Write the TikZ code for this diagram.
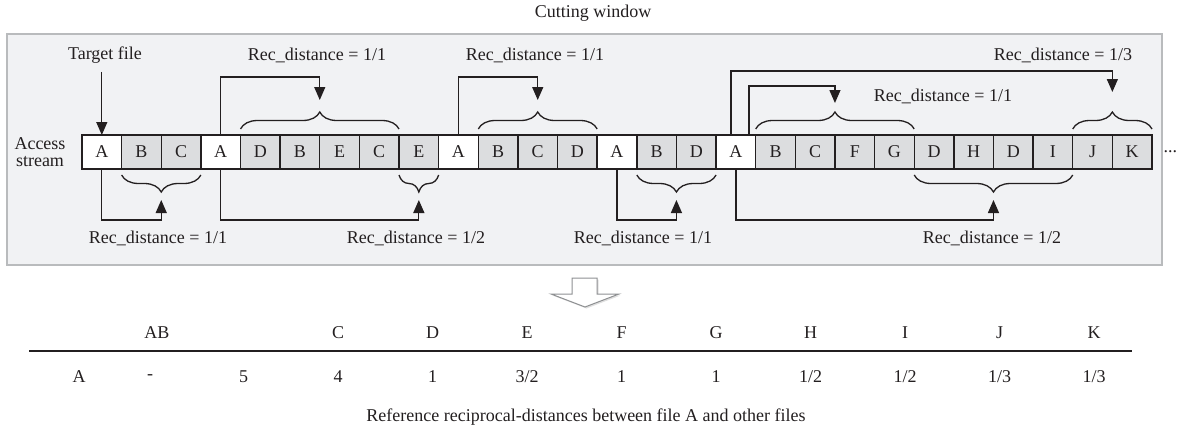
\documentclass[tikz,border=0pt]{standalone}
\usepackage{fontspec}
\setmainfont{Liberation Serif}
\usetikzlibrary{arrows.meta,positioning,calc,decorations.pathreplacing,shadows}
\definecolor{ink}{HTML}{231F20}
\definecolor{winfill}{HTML}{F1F2F4}
\definecolor{winline}{HTML}{B9BBBD}
\definecolor{cellgray}{HTML}{DCDDDF}
\definecolor{hollow}{HTML}{8E9092}

\tikzset{
  cell/.style={draw=ink,line width=1.4pt,minimum width=39.63pt,minimum height=34pt,inner sep=0pt,outer sep=0pt},
  fcell/.style={cell,fill=cellgray},
  acell/.style={cell,fill=white},
  conn/.style={draw=ink,line width=1.3pt,-{Triangle[length=13pt,width=11pt]}},
  ubrc/.style={draw=ink,line width=1.3pt,decorate,decoration={brace,amplitude=17pt}},
  lbrc/.style={draw=ink,line width=1.3pt,decorate,decoration={brace,mirror,amplitude=17pt}}
}

\begin{document}
\begin{tikzpicture}[x=1pt,y=-1pt,font=\fontsize{18}{17}\selectfont,text=ink]
\useasboundingbox (0,0) rectangle (1192,431);
\node (cw) at (593,13) {Cutting window};
\draw[winline,fill=winfill,line width=2pt] (7,34) rectangle (1162,265);

% the access stream
\node[align=center] (as) at (40,152) {Access\\stream};
\node[acell] (c0) at (101.8,152) {A};
\foreach \l/\s [count=\i, remember=\i as \p (initially 0)] in {B/fcell,C/fcell,A/acell,D/fcell,B/fcell,E/fcell,C/fcell,E/fcell,A/acell,B/fcell,C/fcell,D/fcell,A/acell,B/fcell,D/fcell,A/acell,B/fcell,C/fcell,F/fcell,G/fcell,D/fcell,H/fcell,D/fcell,I/fcell,J/fcell,K/fcell}
  \node[\s,right=0pt of c\p] (c\i) {\l};
\node[right=8pt of c26] (more) {...};

% target file
\node (tf) at (105,55) {Target file};
\draw[conn,shorten <=5pt] (c0.north |- tf.south) -- (c0.north);

% braces over the stream
\draw[ubrc] ($(c4.north west)+(0,-6)$) -- ($(c7.north east)+(0,-6)$);
\draw[ubrc] ($(c10.north west)+(0,-6)$) -- ($(c12.north east)+(0,-6)$);
\draw[ubrc] ($(c17.north west)+(0,-6)$) -- ($(c20.north east)+(0,-6)$);
\draw[ubrc] ($(c25.north west)+(0,-6)$) -- ($(c26.north east)+(0,-6)$);
% braces under the stream
\draw[lbrc] ($(c1.south west)+(0,6)$) -- ($(c2.south east)+(0,6)$);
\draw[lbrc] ($(c8.south west)+(0,6)$) -- ($(c8.south east)+(0,6)$);
\draw[lbrc] ($(c14.south west)+(0,6)$) -- ($(c15.south east)+(0,6)$);
\draw[lbrc] ($(c21.south west)+(0,6)$) -- ($(c24.south east)+(0,6)$);

% links above
\draw[conn] (c3.north) -- ++(0,-58) -| ($(c4.north west)!.5!(c7.north east)+(0,-35)$);
\draw[conn] (c9.north) -- ++(0,-58) -| ($(c10.north west)!.5!(c12.north east)+(0,-35)$);
\draw[conn] ($(c16.north)+(-5,0)$) -- ++(0,-64) -| ($(c25.north west)!.5!(c26.north east)+(0,-43)$);
\draw[conn] ($(c16.north)+(13,0)$) -- ++(0,-49) -| ($(c17.north west)!.5!(c20.north east)+(0,-32)$);
% links below
\draw[conn] (c0.south) -- ++(0,51) -| ($(c1.south west)!.5!(c2.south east)+(0,31)$);
\draw[conn] (c3.south) -- ++(0,51) -| ($(c8.south)+(0,31)$);
\draw[conn] (c13.south) -- ++(0,51) -| ($(c14.south west)!.5!(c15.south east)+(0,31)$);
\draw[conn] (c16.south) -- ++(0,51) -| ($(c21.south west)!.5!(c24.south east)+(0,31)$);

% distances
\node (ra) at (317,55) {Rec\_distance = 1/1};
\node (rb) at (535,55) {Rec\_distance = 1/1};
\node (rc) at (1063,55) {Rec\_distance = 1/3};
\node (rd) at (943,96) {Rec\_distance = 1/1};
\node (re) at (158,238) {Rec\_distance = 1/1};
\node (rf) at (416,238) {Rec\_distance = 1/2};
\node (rg) at (643,238) {Rec\_distance = 1/1};
\node (rh) at (992,238) {Rec\_distance = 1/2};

% hollow arrow
\draw[hollow,fill=white,line width=1pt,drop shadow={opacity=.25,shadow xshift=1.5pt,shadow yshift=-1.5pt}]
  (572,278) -- (597,278) -- (597,294) -- (619,294) -- (585,307) -- (551,294) -- (572,294) -- cycle;

% table
\node (hAB) at (157,333) {AB};
\foreach \h [count=\k from 0] in {C,D,E,F,G,H,I,J,K}
  \node (h\h) at (338+94.5*\k,333) {\h};
\draw[ink,line width=2.5pt] (29,351) -- (1132,351);
\node (vA) at (79,377) {A};
\node (vdash) at (150,377) {-};
\foreach \v [count=\k from 0] in {5,4,1,{3/2},1,1,{1/2},{1/2},{1/3},{1/3}}
  \node (v\k) at (243.5+94.5*\k,377) {\v};
\node (cap) at (586,417) {Reference reciprocal-distances between file A and other files};
\end{tikzpicture}
\end{document}
